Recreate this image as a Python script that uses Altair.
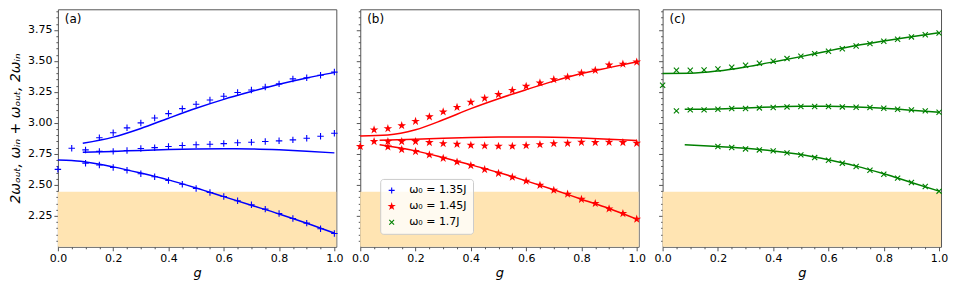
import altair as alt
import pandas as pd

# ---------------- axis / frame constants ----------------
X_MAX = 1.007
Y_MIN, Y_MAX = 2.0, 3.917
SHADE_TOP = 2.445
X_TICKS = [round(i * 0.05, 2) for i in range(0, 21)]
Y_TICKS = [round(2.05 + i * 0.05, 2) for i in range(0, 38)]

SERIES = ["ω₀ = 1.35J", "ω₀ = 1.45J", "ω₀ = 1.7J"]
COLORS = ["#0000ff", "#ff0000", "#008000"]
PANEL_LABELS = ["(a)", "(b)", "(c)"]

PLUS = "M-1,0L1,0M0,-1L0,1"
CROSS = "M-0.8,-0.8L0.8,0.8M-0.8,0.8L0.8,-0.8"
STAR = ("M0,-0.85L0.19,-0.26L0.81,-0.26L0.31,0.1L0.5,0.69L0,0.32"
        "L-0.5,0.69L-0.31,0.1L-0.81,-0.26L-0.19,-0.26Z")

# ---------------- panel (a) ----------------
A_UP_G = [0.15, 0.2, 0.25, 0.3, 0.35, 0.4, 0.45, 0.5, 0.55, 0.6, 0.65, 0.7, 0.75, 0.8, 0.85, 0.9, 0.95, 1.0]
A_UP = [2.88, 2.92, 2.96, 3.00, 3.04, 3.075, 3.115, 3.15, 3.185, 3.215, 3.245, 3.265, 3.29, 3.315, 3.355, 3.365, 3.385, 3.41]
A_MID_G = [0.05, 0.1, 0.15, 0.2, 0.25, 0.3, 0.35, 0.4, 0.45, 0.5, 0.55, 0.6, 0.65, 0.7, 0.75, 0.8, 0.85, 0.9, 0.95, 1.0]
A_MID = [2.795, 2.782, 2.77, 2.77, 2.777, 2.793, 2.80, 2.81, 2.817, 2.823, 2.828, 2.833, 2.84, 2.844, 2.85, 2.855, 2.863, 2.876, 2.892, 2.917]
A_LOW_G = [0.0, 0.1, 0.15, 0.2, 0.25, 0.3, 0.35, 0.4, 0.45, 0.5, 0.55, 0.6, 0.65, 0.7, 0.75, 0.8, 0.85, 0.9, 0.95, 1.0]
A_LOW = [2.625, 2.675, 2.66, 2.64, 2.618, 2.59, 2.565, 2.535, 2.505, 2.47, 2.438, 2.406, 2.371, 2.339, 2.304, 2.269, 2.228, 2.191, 2.145, 2.107]

A_L_UP_G = [0.09, 0.2, 0.3, 0.4, 0.5, 0.6, 0.7, 0.8, 0.9, 1.0]
A_L_UP = [2.835, 2.885, 2.955, 3.038, 3.118, 3.19, 3.253, 3.312, 3.363, 3.406]
A_L_MID_G = [0.09, 0.2, 0.3, 0.4, 0.5, 0.6, 0.7, 0.8, 0.9, 1.0]
A_L_MID = [2.763, 2.770, 2.778, 2.785, 2.790, 2.792, 2.790, 2.783, 2.772, 2.758]
A_L_LOW_G = [0.0, 0.05, 0.1, 0.2, 0.3, 0.4, 0.5, 0.6, 0.7, 0.8, 0.9, 1.0]
A_L_LOW = [2.70, 2.697, 2.685, 2.645, 2.595, 2.54, 2.475, 2.405, 2.335, 2.265, 2.19, 2.11]

# ---------------- panel (b) ----------------
B_UP_G = [0.05, 0.1, 0.15, 0.2, 0.25, 0.3, 0.35, 0.4, 0.45, 0.5, 0.55, 0.6, 0.65, 0.7, 0.75, 0.8, 0.85, 0.9, 0.95, 1.0]
B_UP = [2.944, 2.954, 2.978, 3.013, 3.05, 3.089, 3.126, 3.167, 3.199, 3.23, 3.263, 3.296, 3.323, 3.35, 3.371, 3.403, 3.425, 3.468, 3.475, 3.492]
B_MID_G = [0.0, 0.05, 0.1, 0.15, 0.2, 0.25, 0.3, 0.35, 0.4, 0.45, 0.5, 0.55, 0.6, 0.65, 0.7, 0.75, 0.8, 0.85, 0.9, 0.95, 1.0]
B_MID = [2.81, 2.85, 2.85, 2.85, 2.85, 2.842, 2.833, 2.828, 2.82, 2.815, 2.812, 2.812, 2.817, 2.825, 2.833, 2.836, 2.844, 2.842, 2.844, 2.842, 2.836]
B_LOW_G = [0.1, 0.15, 0.2, 0.25, 0.3, 0.35, 0.4, 0.45, 0.5, 0.55, 0.6, 0.65, 0.7, 0.75, 0.8, 0.85, 0.9, 0.95, 1.0]
B_LOW = [2.806, 2.785, 2.769, 2.742, 2.715, 2.685, 2.656, 2.624, 2.594, 2.562, 2.53, 2.497, 2.457, 2.425, 2.384, 2.35, 2.306, 2.269, 2.223]

B_L_UP_G = [0.0, 0.1, 0.2, 0.3, 0.4, 0.5, 0.6, 0.7, 0.8, 0.9, 1.0]
B_L_UP = [2.895, 2.903, 2.945, 3.025, 3.115, 3.195, 3.268, 3.337, 3.398, 3.446, 3.492]
B_L_MID_G = [0.07, 0.2, 0.3, 0.4, 0.5, 0.6, 0.7, 0.8, 0.9, 1.0]
B_L_MID = [2.860, 2.868, 2.876, 2.882, 2.886, 2.887, 2.885, 2.878, 2.868, 2.857]
B_L_LOW_G = [0.07, 0.2, 0.3, 0.4, 0.5, 0.6, 0.7, 0.8, 0.9, 1.0]
B_L_LOW = [2.823, 2.774, 2.72, 2.661, 2.6, 2.532, 2.46, 2.384, 2.309, 2.223]

# ---------------- panel (c) ----------------
C_UP_G = [0.05, 0.1, 0.15, 0.2, 0.25, 0.3, 0.35, 0.4, 0.45, 0.5, 0.55, 0.6, 0.65, 0.7, 0.75, 0.8, 0.85, 0.9, 0.95, 1.0]
C_UP = [3.425, 3.425, 3.427, 3.435, 3.449, 3.465, 3.481, 3.497, 3.519, 3.538, 3.559, 3.578, 3.599, 3.621, 3.64, 3.659, 3.675, 3.694, 3.712, 3.726]
C_MID_G = [0.0, 0.05, 0.1, 0.15, 0.2, 0.25, 0.3, 0.35, 0.4, 0.45, 0.5, 0.55, 0.6, 0.65, 0.7, 0.75, 0.8, 0.85, 0.9, 0.95, 1.0]
C_MID = [3.304, 3.097, 3.105, 3.105, 3.11, 3.116, 3.116, 3.121, 3.124, 3.129, 3.132, 3.132, 3.132, 3.129, 3.126, 3.124, 3.118, 3.11, 3.105, 3.097, 3.086]
C_LOW_G = [0.2, 0.25, 0.3, 0.35, 0.4, 0.45, 0.5, 0.55, 0.6, 0.65, 0.7, 0.75, 0.8, 0.85, 0.9, 0.95, 1.0]
C_LOW = [2.809, 2.801, 2.79, 2.782, 2.774, 2.758, 2.742, 2.72, 2.699, 2.675, 2.648, 2.618, 2.586, 2.554, 2.519, 2.487, 2.449]

C_L_UP_G = [0.0, 0.1, 0.2, 0.3, 0.4, 0.5, 0.6, 0.7, 0.8, 0.9, 1.0]
C_L_UP = [3.398, 3.40, 3.419, 3.452, 3.492, 3.535, 3.581, 3.624, 3.661, 3.696, 3.728]
C_L_MID_G = [0.08, 0.2, 0.3, 0.4, 0.5, 0.6, 0.7, 0.8, 0.9, 1.0]
C_L_MID = [3.11, 3.113, 3.121, 3.129, 3.134, 3.134, 3.129, 3.118, 3.102, 3.086]
C_L_LOW_G = [0.08, 0.2, 0.3, 0.4, 0.5, 0.6, 0.7, 0.8, 0.9, 1.0]
C_L_LOW = [2.823, 2.809, 2.796, 2.774, 2.745, 2.702, 2.651, 2.589, 2.519, 2.449]

FONT = "DejaVu Sans"
FRAME = "#555555"
W, H = 279, 238


def marks_df(pairs, series):
    rows = []
    for gs, vs in pairs:
        for g, v in zip(gs, vs):
            rows.append({"g": g, "v": v, "series": series})
    return pd.DataFrame(rows)


def lines_df(pairs):
    rows = []
    for k, (gs, vs) in enumerate(pairs):
        for g, v in zip(gs, vs):
            rows.append({"g": g, "v": v, "branch": k})
    return pd.DataFrame(rows)


xscale = alt.Scale(domain=[0, X_MAX], nice=False, zero=False)
yscale = alt.Scale(domain=[Y_MIN, Y_MAX], nice=False, zero=False)

X_MAJOR = "abs(datum.value*5 - round(datum.value*5)) < 1e-6"
Y_MAJOR = "abs(datum.value*4 - round(datum.value*4)) < 1e-6"


def cond(test, yes, no):
    return {"condition": {"test": test, "value": yes}, "value": no}


def xaxis():
    return alt.Axis(values=X_TICKS, tickCount=1000, title="g", titleFontStyle="italic",
                    labelExpr=f"{X_MAJOR} ? format(datum.value, '.1f') : ''",
                    labelFontSize=cond(X_MAJOR, 11, 0),
                    tickSize=cond(X_MAJOR, 4, 2),
                    labelOverlap=False, labelFlush=False, grid=False, domain=False,
                    labelPadding=2, titlePadding=3)


def yaxis(show):
    if show:
        return alt.Axis(values=Y_TICKS, tickCount=1000, title="2ωₒᵤₜ, ωᵢₙ + ωₒᵤₜ, 2ωᵢₙ",
                        titleFontStyle="italic", titleFontSize=14,
                        labelExpr=f"{Y_MAJOR} ? format(datum.value, '.2f') : ''",
                        labelFontSize=cond(Y_MAJOR, 11, 0),
                        tickSize=cond(Y_MAJOR, 4, 2),
                        labelOverlap=False, labelFlush=False, grid=False, domain=False,
                        labelPadding=2, titlePadding=5)
    return alt.Axis(values=Y_TICKS, tickCount=1000, title=None, labels=False,
                    tickSize=cond(Y_MAJOR, 4, 2),
                    grid=False, domain=False)


def panel(idx, mark_pairs, line_pairs, shape_path, filled):
    color = COLORS[idx]
    shade = pd.DataFrame({"x0": [0.0], "x1": [X_MAX], "y0": [Y_MIN], "y1": [SHADE_TOP]})
    bg = alt.Chart(shade).mark_rect(color="#ffe4b2").encode(
        x=alt.X("x0:Q", scale=xscale, axis=xaxis()),
        x2="x1:Q",
        y=alt.Y("y0:Q", scale=yscale, axis=yaxis(idx == 0)),
        y2="y1:Q",
    )
    lines = alt.Chart(lines_df(line_pairs)).mark_line(
        color=color, strokeWidth=1.5, interpolate="monotone"
    ).encode(
        x=alt.X("g:Q", scale=xscale),
        y=alt.Y("v:Q", scale=yscale),
        detail="branch:N",
    )
    mdf = marks_df(mark_pairs, SERIES[idx])
    if idx == 1:
        leg = dict(title=None, orient="none", legendX=20, legendY=170,
                   fillColor="rgba(255,255,255,0.8)", strokeColor="#cccccc",
                   cornerRadius=3, padding=6, labelFont=FONT, labelFontSize=11,
                   symbolSize=36, symbolStrokeWidth=1.1, rowPadding=4, labelOffset=12)
        pts = alt.Chart(mdf).mark_point(size=42, strokeWidth=1.1, opacity=1).encode(
            x=alt.X("g:Q", scale=xscale),
            y=alt.Y("v:Q", scale=yscale),
            shape=alt.Shape("series:N", scale=alt.Scale(domain=SERIES, range=[PLUS, STAR, CROSS]),
                            legend=alt.Legend(**leg)),
            stroke=alt.Stroke("series:N", scale=alt.Scale(domain=SERIES, range=COLORS),
                              legend=alt.Legend(**leg)),
            fill=alt.Fill("series:N", scale=alt.Scale(domain=SERIES, range=["transparent", "#ff0000", "transparent"]),
                          legend=alt.Legend(**leg)),
        )
    else:
        pts = alt.Chart(mdf).mark_point(
            shape=shape_path, filled=filled, color=color, size=42, strokeWidth=1.1, opacity=1
        ).encode(
            x=alt.X("g:Q", scale=xscale),
            y=alt.Y("v:Q", scale=yscale),
        )
    lab = alt.Chart(pd.DataFrame({"g": [0.025], "v": [3.84], "t": [PANEL_LABELS[idx]]})).mark_text(
        align="left", baseline="middle", font=FONT, fontSize=12, color="black"
    ).encode(x=alt.X("g:Q", scale=xscale), y=alt.Y("v:Q", scale=yscale), text="t:N")
    return alt.layer(bg, lines, pts, lab).properties(width=W, height=H)


pa = panel(0, [(A_UP_G, A_UP), (A_MID_G, A_MID), (A_LOW_G, A_LOW)],
           [(A_L_UP_G, A_L_UP), (A_L_MID_G, A_L_MID), (A_L_LOW_G, A_L_LOW)], PLUS, False)
pb = panel(1, [(B_UP_G, B_UP), (B_MID_G, B_MID), (B_LOW_G, B_LOW)],
           [(B_L_UP_G, B_L_UP), (B_L_MID_G, B_L_MID), (B_L_LOW_G, B_L_LOW)], STAR, True)
pc = panel(2, [(C_UP_G, C_UP), (C_MID_G, C_MID), (C_LOW_G, C_LOW)],
           [(C_L_UP_G, C_L_UP), (C_L_MID_G, C_L_MID), (C_L_LOW_G, C_L_LOW)], CROSS, False)

chart = alt.hconcat(pa, pb, pc, spacing=24, bounds="flush").resolve_scale(
    shape="independent", stroke="independent", fill="independent"
).properties(padding={"left": 0, "top": 0, "right": 0, "bottom": 0}).configure_view(
    stroke=FRAME, strokeWidth=1
).configure_axis(
    labelFont=FONT, titleFont=FONT, labelFontSize=11, titleFontSize=12,
    labelColor="black", titleColor="black", tickColor=FRAME, titleFontWeight="normal"
).configure_axisX(titleFontSize=13)

chart.save("out.html", embed_options={"renderer": "svg", "actions": False})
